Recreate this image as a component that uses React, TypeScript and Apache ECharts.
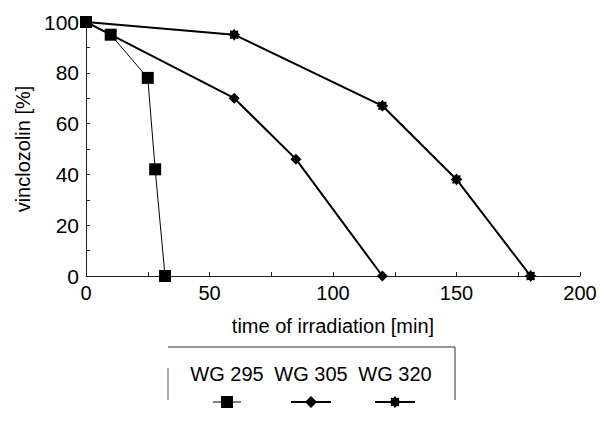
import React, { useEffect, useRef } from "react";
import * as echarts from "echarts";

const seriesNames = ["WG 295", "WG 305", "WG 320"];
const times295 = [0, 10, 25, 28, 32];
const vals295 = [100, 95, 78, 42, 0];
const times305 = [0, 10, 60, 85, 120];
const vals305 = [100, 95, 70, 46, 0];
const times320 = [0, 60, 120, 150, 180];
const vals320 = [100, 95, 67, 38, 0];

const xTicks = [0, 50, 100, 150, 200];
const yTicks = [0, 20, 40, 60, 80, 100];

const FONT = "'Liberation Sans', Arial, sans-serif";
const STAR =
  "path://M20 10 L16.47 12.68 L17.07 17.07 L12.68 16.47 L10 20 L7.32 16.47 L2.93 17.07 L3.53 12.68 L0 10 L3.53 7.32 L2.93 2.93 L7.32 3.53 L10 0 L12.68 3.53 L17.07 2.93 L16.47 7.32 Z";

function pairs(xs: number[], ys: number[]) {
  return xs.map((x, i) => [x, ys[i]]);
}

export default function App() {
  const ref = useRef<HTMLDivElement>(null);
  useEffect(() => {
    if (!ref.current) return;
    const chart = echarts.init(ref.current, undefined, { renderer: "svg" });
    const legendCenters = [227, 311, 395];
    const legendY = 374;
    const symY = 402;
    const graphics: any[] = [
      { type: "line", shape: { x1: 168, y1: 347, x2: 455, y2: 347 }, style: { stroke: "#333", lineWidth: 1 } },
      { type: "line", shape: { x1: 455, y1: 347, x2: 455, y2: 400 }, style: { stroke: "#333", lineWidth: 1 } },
      { type: "line", shape: { x1: 168, y1: 368, x2: 168, y2: 400 }, style: { stroke: "#555", lineWidth: 1 } },
    ];
    seriesNames.forEach((name, i) => {
      const cx = legendCenters[i];
      graphics.push({
        type: "text",
        x: cx,
        y: legendY,
        style: { text: name, fill: "#000", font: `20px ${FONT}`, align: "center", verticalAlign: "middle" },
      });
      const half = i === 0 ? 14 : 20;
      graphics.push({
        type: "line",
        shape: { x1: cx - half, y1: symY, x2: cx + half, y2: symY },
        style: { stroke: "#000", lineWidth: i === 0 ? 1 : 2 },
      });
      if (i === 0) {
        graphics.push({ type: "rect", shape: { x: cx - 6, y: symY - 6, width: 12, height: 12 }, style: { fill: "#000" } });
      } else if (i === 1) {
        graphics.push({
          type: "polygon",
          shape: { points: [[cx, symY - 6], [cx + 6, symY], [cx, symY + 6], [cx - 6, symY]] },
          style: { fill: "#000" },
        });
      } else {
        const pts: number[][] = [];
        for (let k = 0; k < 16; k++) {
          const a = (k * Math.PI) / 8;
          const r = k % 2 === 0 ? 6 : 4.3;
          pts.push([cx + r * Math.cos(a), symY + r * Math.sin(a)]);
        }
        graphics.push({ type: "polygon", shape: { points: pts }, style: { fill: "#000" } });
      }
    });

    chart.setOption({
      animation: false,
      backgroundColor: "#fff",
      textStyle: { fontFamily: FONT },
      grid: { left: 86, right: 20, top: 22, bottom: 146, containLabel: false },
      xAxis: {
        type: "value",
        min: 0,
        max: 200,
        interval: 25,
        name: "time of irradiation [min]",
        nameLocation: "middle",
        nameGap: 40,
        nameTextStyle: { fontSize: 20, color: "#000", fontFamily: FONT },
        axisLine: { show: true, onZero: false, lineStyle: { color: "#222", width: 1 } },
        axisTick: { show: true, inside: true, length: 4, lineStyle: { color: "#222" } },
        splitLine: { show: false },
        axisLabel: {
          fontSize: 20,
          color: "#000",
          margin: 7,
          formatter: (v: number) => (xTicks.includes(v) ? String(v) : ""),
        },
      },
      yAxis: {
        type: "value",
        min: 0,
        max: 100,
        interval: 10,
        name: "vinclozolin [%]",
        nameLocation: "middle",
        nameGap: 53,
        nameTextStyle: { fontSize: 20, color: "#000", fontFamily: FONT },
        axisLine: { show: true, lineStyle: { color: "#222", width: 1 } },
        axisTick: { show: true, inside: true, length: 4, lineStyle: { color: "#222" } },
        splitLine: { show: false },
        axisLabel: {
          fontSize: 21,
          color: "#000",
          margin: 7,
          formatter: (v: number) => (yTicks.includes(v) ? String(v) : ""),
        },
      },
      series: [
        {
          name: seriesNames[2],
          type: "line",
          data: pairs(times320, vals320),
          symbol: STAR,
          symbolSize: 12,
          lineStyle: { color: "#000", width: 2 },
          itemStyle: { color: "#000" },
        },
        {
          name: seriesNames[1],
          type: "line",
          data: pairs(times305, vals305),
          symbol: "diamond",
          symbolSize: 11,
          lineStyle: { color: "#000", width: 2 },
          itemStyle: { color: "#000" },
        },
        {
          name: seriesNames[0],
          type: "line",
          data: pairs(times295, vals295),
          symbol: "rect",
          symbolSize: 12,
          lineStyle: { color: "#000", width: 1 },
          itemStyle: { color: "#000" },
        },
      ],
      graphic: graphics,
    });
    return () => chart.dispose();
  }, []);
  return (
    <div
      ref={ref}
      style={{ position: "fixed", left: 0, top: 0, width: 600, height: 422, background: "#fff" }}
    />
  );
}
